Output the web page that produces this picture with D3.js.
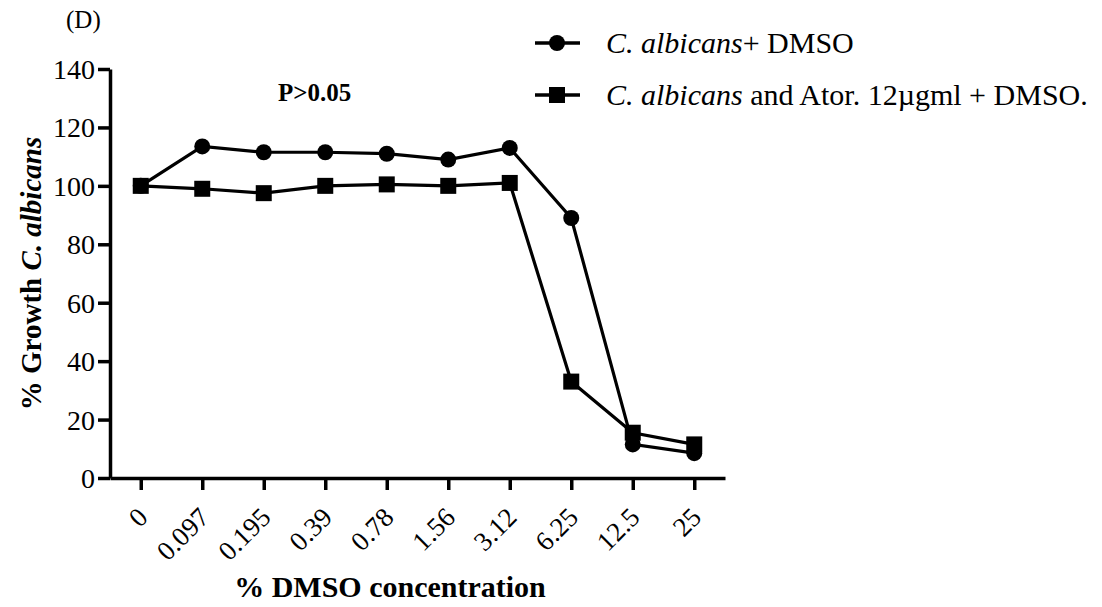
<!DOCTYPE html>
<html>
<head>
<meta charset="utf-8">
<script src="https://cdn.jsdelivr.net/npm/d3@7"></script>
<style>
  body { margin: 0; background: #fff; }
  svg text { font-family: "Liberation Serif", "Times New Roman", serif; fill: #000; }
</style>
</head>
<body>
<div id="chart"></div>
<script>
// concentrations (% DMSO)
const categories = ["0", "0.097", "0.195", "0.39", "0.78", "1.56", "3.12", "6.25", "12.5", "25"];
// % growth C. albicans
const dmsoOnly = [100, 113.5, 111.5, 111.5, 111, 109, 113, 89, 11.5, 8.5];
const atorDmso = [100, 99, 97.5, 100, 100.5, 100, 101, 33, 15.5, 11.5];
const yTicks = [0, 20, 40, 60, 80, 100, 120, 140];

const width = 1102, height = 607;
const margin = { left: 110, top: 69, right: 377, bottom: 129 };

const svg = d3.select("#chart").append("svg")
  .attr("width", width)
  .attr("height", height);

const x = d3.scalePoint()
  .domain(categories)
  .range([margin.left, width - margin.right])
  .padding(0.5);

const y = d3.scaleLinear()
  .domain([0, 140])
  .range([height - margin.bottom, margin.top]);

// axes
const yAxis = svg.append("g")
  .attr("transform", `translate(${margin.left},0)`)
  .call(d3.axisLeft(y).tickValues(yTicks).tickSize(12).tickPadding(3).tickSizeOuter(0));

const xAxis = svg.append("g")
  .attr("transform", `translate(0,${height - margin.bottom})`)
  .call(d3.axisBottom(x).tickSize(12).tickSizeOuter(0));

[xAxis, yAxis].forEach(g => {
  g.select(".domain").attr("stroke", "#000").attr("stroke-width", 3.5);
  g.selectAll(".tick line").attr("stroke", "#000").attr("stroke-width", 3.5);
});

yAxis.selectAll(".tick text")
  .style("font-family", "'Liberation Serif', serif")
  .style("font-size", "28px")
  .attr("dy", "0.34em");

xAxis.selectAll(".tick text")
  .style("font-family", "'Liberation Serif', serif")
  .style("font-size", "27px")
  .attr("text-anchor", "end")
  .attr("x", 0)
  .attr("y", 0)
  .attr("dy", 0)
  .attr("transform", "translate(8,41) rotate(-45)");

// lines
const line = d3.line()
  .x((d, i) => x(categories[i]))
  .y(d => y(d));

svg.append("path")
  .datum(atorDmso)
  .attr("d", line)
  .attr("fill", "none")
  .attr("stroke", "#000")
  .attr("stroke-width", 3.2);

svg.append("path")
  .datum(dmsoOnly)
  .attr("d", line)
  .attr("fill", "none")
  .attr("stroke", "#000")
  .attr("stroke-width", 3.2);

svg.selectAll("rect.pt")
  .data(atorDmso)
  .enter().append("rect")
  .attr("class", "pt")
  .attr("x", (d, i) => x(categories[i]) - 8)
  .attr("y", d => y(d) - 8)
  .attr("width", 16)
  .attr("height", 16)
  .attr("fill", "#000");

svg.selectAll("circle.pt")
  .data(dmsoOnly)
  .enter().append("circle")
  .attr("class", "pt")
  .attr("cx", (d, i) => x(categories[i]))
  .attr("cy", d => y(d))
  .attr("r", 8)
  .attr("fill", "#000");

// titles
svg.append("text")
  .attr("x", 66).attr("y", 28)
  .style("font-size", "25px")
  .text("(D)");

svg.append("text")
  .attr("x", 278).attr("y", 101)
  .style("font-size", "25px")
  .style("font-weight", "bold")
  .text("P>0.05");

svg.append("text")
  .attr("x", 390)
  .attr("y", 597)
  .attr("text-anchor", "middle")
  .style("font-size", "30px")
  .style("font-weight", "bold")
  .text("% DMSO concentration");

const yTitle = svg.append("text")
  .attr("transform", `translate(41,${(margin.top + height - margin.bottom) / 2}) rotate(-90)`)
  .attr("text-anchor", "middle")
  .style("font-size", "29px")
  .style("font-weight", "bold");
yTitle.append("tspan").text("% Growth ");
yTitle.append("tspan").style("font-style", "italic").text("C. albicans");

// legend
const legend = svg.append("g");
const legendRows = [
  { y: 43, shape: "circle", parts: [["C. albicans", true], ["+ DMSO", false]] },
  { y: 95, shape: "square", parts: [["C. albicans", true], [" and Ator. 12µgml + DMSO.", false]] }
];
legendRows.forEach(r => {
  legend.append("line")
    .attr("x1", 535).attr("x2", 580)
    .attr("y1", r.y).attr("y2", r.y)
    .attr("stroke", "#000").attr("stroke-width", 3.5);
  if (r.shape === "circle") {
    legend.append("circle").attr("cx", 557).attr("cy", r.y).attr("r", 8).attr("fill", "#000");
  } else {
    legend.append("rect").attr("x", 549).attr("y", r.y - 8).attr("width", 16).attr("height", 16).attr("fill", "#000");
  }
  const t = legend.append("text")
    .attr("x", 606).attr("y", r.y + 10)
    .style("font-size", "30px");
  r.parts.forEach(([s, it]) => {
    t.append("tspan").style("font-style", it ? "italic" : "normal").text(s);
  });
});
</script>
</body>
</html>
